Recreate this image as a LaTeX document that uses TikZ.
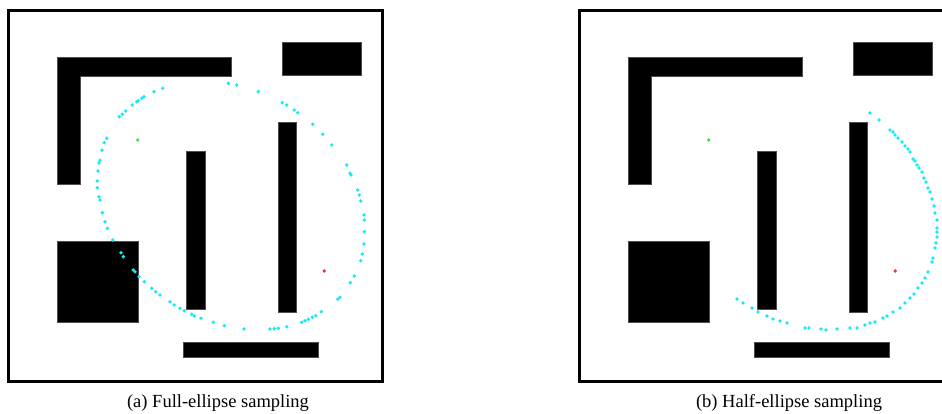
\documentclass[tikz,border=0pt]{standalone}
\usepackage{fontspec}
\setmainfont{Liberation Serif}
\usepackage{xcolor}
\definecolor{samplecyan}{RGB}{20,235,245}
\definecolor{startgreen}{RGB}{70,225,70}
\definecolor{goalred}{RGB}{240,50,50}
\usepackage{tikz}
\tikzset{
  map_frame/.style={draw=black,line width=3pt},
  obst/.style={fill=black,draw=black!70,line width=0.5pt},
  samp/.style={fill=samplecyan},
  start_pt/.style={fill=startgreen},
  goal_pt/.style={fill=goalred},
  sub_cap/.style={font=\fontsize{18.5}{22}\selectfont,anchor=base,inner sep=0pt},
}
% frame, obstacles, start and goal of one map
\newcommand{\mapscene}{%
  \draw[map_frame] (8.7,10.8) rectangle (382,381.7);
  \filldraw[obst] (57.3,57.3) -- (231.7,57.3) -- (231.7,76) -- (80,76)
    -- (80,184) -- (57.3,184) -- cycle;
  \filldraw[obst] (282.3,42.7) rectangle (361.7,75);
  \filldraw[obst] (57,241) rectangle (138,322);
  \filldraw[obst] (186,151.7) rectangle (205.3,309);
  \filldraw[obst] (278,122.7) rectangle (296.7,312.3);
  \filldraw[obst] (183.7,342.3) rectangle (318.3,357.7);
  \fill[start_pt] (137.7,140) circle (1.9);
  \fill[goal_pt] (324.3,271) circle (1.9);
}

\begin{document}
\begin{tikzpicture}[x=1pt,y=-1pt]

  \useasboundingbox (0,0) rectangle (942,414);
  \clip (0,0) rectangle (942,414);

  % (a) full ellipse
  \begin{scope}
    \mapscene
    \foreach \px/\py in {106.7/138.3,104.3/142.7,102/150.3,100/160.3,99/163,
        98/171,97.3/181,97.3/187.7,99/196.7,100/200,102.3/212.7,105/221.7,
        107.3/228.3,112.7/240,121/252.7,123.3/256.7,133.3/270,135/271.7,
        139/276.7,144.3/281.7,151.7/288.3,155.7/291.7,160/295,170/301.7,
        174.3/305,180/308.3,184.3/310.7,191.7/314.3,194.3/316,201/318.3,
        213.3/322.3,224.3/325.7,244/329,270/329,274.3/328.7,278.3/328.3,
        286.7/326.7,301.7/322.3,305/320.7,308.3/319.3,312.3/317.3,
        315.7/315.7,321.3/311.7,337.7/299.3,340/297.3,350.3/282.7,354.3/276,
        360.7/260.7,362.3/254,364/244,364.3/231.7,364.3/220,364/215,
        360.7/201,359.3/195,357.7/190,351/175,350/173.3,346.7/165,331.7/145,
        322.7/134.3,312.7/124.3,297.7/112.7,294.3/110,286.7/105,282.3/102.7,
        258.3/91.7,236.7/85,228.3/83.3,162.7/88.3,154/91.7,144/96.7,
        141.7/98.3,138.3/100.7,136.7/101.7,132.3/105,125.7/111,122.3/114.3,
        119.3/116.7}
      \fill[samp] (\px,\py) circle (1.9);
    \node[sub_cap] (capA) at (218,407) {(a) Full-ellipse sampling};
  \end{scope}

  % (b) half ellipse
  \begin{scope}[xshift=571pt]
    \mapscene
    \foreach \px/\py in {299/113,308/120,319/130,322/132,324/135,327/138,
        331/142,334/146,337/149,339/152,342/159,344/161,346/165,348/168,
        351/172,353/178,355/182,357/188,359/192,361/199,363/206,364/213,
        366/220,366/228,366/232,366/237,365/243,364/248,362/258,361/262,
        357/272,354/278,351/283,347/288,343/294,339/298,334/303,329/308,
        322/312,316/316,312/318,304/322,299/323,294/325,286/328,279/328,
        266/329,255/330,250/329,238/328,234/328,216/323,209/321,202/319,
        196/316,187/312,181/308,172/303,166/299}
      \fill[samp] (\px,\py) circle (1.9);
    \node[sub_cap] (capB) at (218,407) {(b) Half-ellipse sampling};
  \end{scope}

\end{tikzpicture}
\end{document}
